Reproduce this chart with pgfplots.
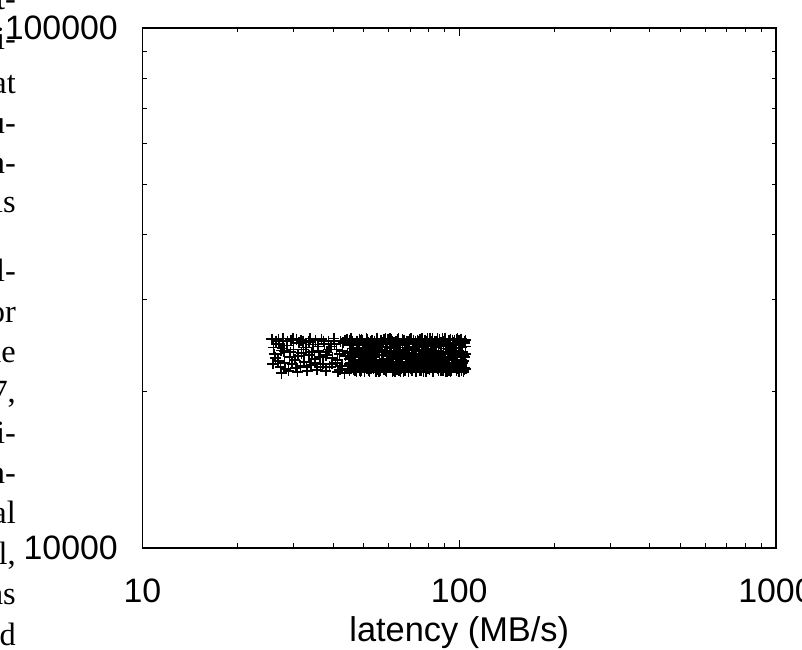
\documentclass[border=0pt]{standalone}
\usepackage{pgfplots}
\pgfplotsset{compat=1.18}
\usepackage{fontspec}
\setmainfont{Liberation Sans}
\newfontfamily\paperfont{Liberation Serif}

\begin{document}
\begin{tikzpicture}
\path[use as bounding box] (0,0) rectangle (802bp,650bp);
\begin{scope}[every node/.style={anchor=base east, inner sep=0pt, font=\paperfont\fontsize{32.5}{38}\selectfont}]
\node at (16bp,640bp) {t-};
\node at (16bp,600bp) {i-};
\node at (16bp,556bp) {at};
\node at (16bp,516bp) {u-};
\node at (16bp,476bp) {n-};
\node at (16bp,437bp) {is};
\node at (16bp,368bp) {l-};
\node at (16bp,327bp) {or};
\node at (16bp,287bp) {he};
\node at (16bp,247bp) {7,};
\node at (16bp,206bp) {i-};
\node at (16bp,166bp) {n-};
\node at (16bp,126bp) {al};
\node at (16bp,85bp) {l,};
\node at (16bp,45bp) {as};
\node at (16bp,5bp) {d};
\end{scope}
\begin{axis}[
  at={(142.5bp,102bp)}, anchor=south west,
  scale only axis, width=633.5bp, height=520bp,
  xmode=log, ymode=log,
  xmin=10, xmax=1000, ymin=10000, ymax=100000,
  xtick={10,100,1000}, xticklabels={10,100,1000},
  ytick={10000,100000}, yticklabels={10000,100000},
  minor xtick={20,30,40,50,60,70,80,90,200,300,400,500,600,700,800,900},
  minor ytick={20000,30000,40000,50000,60000,70000,80000,90000},
  tick align=inside, major tick length=8bp, minor tick length=4.5bp,
  every tick/.style={black, line width=1bp},
  axis line style={line width=1.6bp},
  /pgf/number format/assume math mode=true,
  ticklabel style={font=\fontsize{34}{40}\selectfont, inner sep=0pt},
  xticklabel style={anchor=base, yshift=-55bp},
  yticklabel style={anchor=east, xshift=-24.5bp},
  xlabel={latency (MB/s)},
  x label style={at={(axis description cs:0.5,0)}, anchor=base, yshift=-94bp, inner sep=0pt, font=\fontsize{34.5}{40}\selectfont},
]
\addplot[only marks, mark=+, mark size=5.5bp, black, line width=1.5bp] table {
x y
25.6 25200
25.9 24300
26.1 23600
26.4 25000
26.8 22900
27.0 24700
27.3 22300
27.5 21700
27.8 25300
28.0 23900
28.3 22100
28.6 24500
28.9 21900
29.1 23300
29.4 25100
29.7 22600
30.0 24100
30.3 23000
30.6 25200
30.9 21800
31.2 24800
31.5 22400
31.8 23700
32.1 25000
32.4 22800
32.8 24300
33.1 21900
33.5 23500
33.8 25300
34.1 22500
34.5 24600
34.9 23100
35.2 25100
35.6 22000
36.0 24000
36.3 23300
36.7 25200
37.1 22600
37.5 24700
37.9 21900
38.2 23800
38.6 25000
39.0 22300
39.4 24400
39.8 23200
40.2 25300
40.6 22700
41.0 24100
41.4 21800
41.8 23600
42.2 25000
42.6 22400
43.0 24800
43.4 21700
43.8 23400
44.2 25200
44.6 22100
45.0 24500
25.8 22600
26.3 23200
26.9 25200
27.4 24000
28.1 22700
28.7 25000
29.3 23800
29.9 25300
30.5 22200
31.0 23400
31.7 25100
32.2 24100
32.9 22300
33.6 24900
34.3 23800
35.0 22700
35.8 24400
36.5 22300
37.3 25000
38.0 23500
38.8 24100
39.6 22600
40.4 24700
41.2 23000
42.0 22000
42.8 23900
43.6 25100
44.4 23700
44.9 22600
27.6 24200
45.0 23100
46.0 25000
47.0 22200
48.0 24300
49.1 21900
50.2 23700
51.3 25200
52.4 22600
53.5 24600
54.7 23000
55.9 21800
57.1 24100
58.4 25300
59.7 22400
61.0 23500
62.3 24800
63.7 22000
65.1 23900
66.5 25100
68.0 22700
69.5 24400
71.0 21900
72.6 23300
74.2 25000
75.8 22300
77.5 24000
79.2 22900
80.9 25200
82.7 21800
84.5 23600
86.4 24700
88.3 22500
90.2 25300
92.2 23100
94.2 21900
96.3 24200
98.4 22800
100.6 25000
102.8 23400
105.0 22100
45.5 24500
46.5 22000
47.5 23800
48.5 25200
49.6 22500
50.8 24100
51.9 21900
53.0 23200
54.1 25000
55.3 22300
56.5 24700
57.7 23500
59.0 21800
60.4 24900
61.7 22800
63.0 23300
64.4 25300
65.8 22100
67.2 24500
68.7 23700
70.3 22200
71.8 25100
73.4 23900
75.0 22000
76.6 24600
78.4 21800
80.1 23400
81.8 24900
83.6 22600
85.4 25300
87.4 22000
89.3 23800
91.2 24400
93.2 22700
95.2 25100
97.4 23000
99.5 24000
101.7 21900
103.9 24800
45.2 22700
46.3 24200
47.3 21800
48.3 23400
49.4 25100
50.5 22900
51.6 24800
52.7 22100
53.8 23600
55.0 25300
56.2 21900
57.4 23000
58.7 24400
60.0 22200
61.3 25000
62.6 21800
64.0 24000
65.5 23100
66.9 22300
68.4 24900
69.9 25200
71.4 22800
73.0 21800
74.6 24300
76.2 23500
77.9 25100
79.6 22100
81.3 23900
83.2 24600
85.0 22300
86.9 23400
88.8 21900
90.7 24700
92.7 25100
94.7 22400
96.8 23600
98.9 25300
101.2 22600
103.4 22000
104.6 24400
45.7 23300
46.8 21900
47.8 24900
48.8 22400
49.9 23900
51.0 25300
52.1 22000
53.3 24400
54.4 23000
55.6 21800
56.8 25000
58.0 22500
59.4 23800
60.7 24600
62.0 21900
63.3 22700
64.8 24100
66.2 25200
67.6 23400
69.1 21800
70.6 22900
72.2 24300
73.8 25100
75.4 22200
77.1 23700
78.8 24800
80.5 22000
82.2 25300
84.1 23200
85.9 21900
87.8 24500
89.8 22600
91.7 23300
93.7 21800
95.8 23900
97.9 25200
100.0 22400
102.3 23800
104.5 25100
45.1 25100
46.1 23600
47.1 22400
48.2 24000
49.2 22900
50.3 21800
51.5 24600
52.6 23300
53.7 22100
54.9 24900
56.1 23800
57.3 22200
58.6 24000
59.9 23000
61.2 25200
62.5 24400
63.9 22500
65.3 21800
66.7 23600
68.2 25000
69.7 24100
71.2 22400
72.8 23100
74.4 24500
76.0 21900
77.7 22500
79.4 25300
81.1 23600
82.9 22100
84.8 24300
86.7 25200
88.6 22900
90.5 21800
92.5 24100
94.5 23300
96.6 22200
98.7 23500
100.9 24600
103.1 22900
45.6 22100
46.6 23500
47.7 24700
48.7 21800
49.8 23200
50.9 24500
52.0 22700
53.1 25100
54.2 22300
55.5 24300
56.7 22600
57.9 25200
59.2 22700
60.5 23400
61.9 24200
63.2 25000
64.6 21900
66.0 22800
67.4 24700
69.0 23200
70.5 22100
72.0 24000
73.6 22600
75.2 25200
76.9 23100
78.6 24100
80.3 23700
82.0 22300
83.9 24900
85.7 22800
87.6 21900
89.5 25000
91.5 22200
93.5 23600
95.5 24800
97.6 23900
99.8 21800
102.0 23000
104.2 25000
45.4 23800
46.4 22300
47.4 25000
48.4 21900
49.5 24200
50.6 23100
51.7 22500
52.8 24800
53.9 23500
55.1 22000
56.4 24300
57.6 25200
58.9 22800
60.2 23900
61.5 21800
62.8 24600
64.2 23100
65.6 22400
67.0 25100
68.5 24000
70.1 22900
71.6 23600
73.2 21900
74.8 24700
76.4 25300
78.1 22700
79.8 24100
81.5 22200
83.4 23300
85.2 25000
87.1 23800
89.0 22400
90.9 24200
92.9 21900
95.0 23400
97.1 24600
99.2 22100
101.4 25200
103.6 23300
45.9 24700
46.9 23000
47.9 22200
48.9 25100
50.0 23500
51.2 22100
52.3 24000
53.4 23400
54.5 21800
55.7 24500
57.0 22900
58.2 23900
59.5 25200
60.8 22300
62.2 24800
63.5 23700
64.9 22000
66.3 24300
67.8 23200
69.3 25000
70.8 22500
72.4 24100
74.0 22800
75.6 23500
77.2 21800
79.0 24400
80.7 25300
82.4 23000
84.3 22400
86.1 24000
88.0 22700
90.0 24900
91.9 23600
94.0 25200
96.0 22300
98.1 21900
100.3 24500
102.5 22700
104.8 23600
45.1 21900
46.1 24600
47.1 23300
48.1 22600
49.2 25200
50.3 24000
51.4 23200
52.5 25000
53.6 22400
54.8 24000
56.0 22700
57.2 24800
58.5 21900
59.8 23100
61.1 23700
62.4 22000
63.8 25200
65.2 24600
66.6 21800
68.1 22500
69.6 23100
71.1 24700
72.7 25000
74.3 22900
75.9 24100
77.6 23300
79.3 22400
81.0 24500
82.9 21800
84.7 23500
86.6 22200
88.5 25300
90.4 23000
92.4 22600
94.4 24300
96.5 25100
98.6 22700
100.8 23400
103.0 21800
45.6 25300
46.6 22800
47.6 24100
48.6 23600
49.8 22300
50.9 24900
52.0 21800
53.1 22800
54.2 24200
55.4 23800
56.7 25100
57.9 22000
59.2 24300
60.5 25300
61.8 22600
63.1 24000
64.6 23400
66.0 22600
67.4 21900
68.9 24200
70.4 25300
72.0 23400
73.6 24400
75.2 21900
76.8 22800
78.5 25000
80.3 22600
82.0 24500
83.8 23700
85.6 22100
87.6 24800
89.5 23200
91.4 21800
93.4 24500
95.5 22700
97.6 23300
99.7 25100
102.0 24300
104.2 22200
};
\end{axis}
\end{tikzpicture}
\end{document}
